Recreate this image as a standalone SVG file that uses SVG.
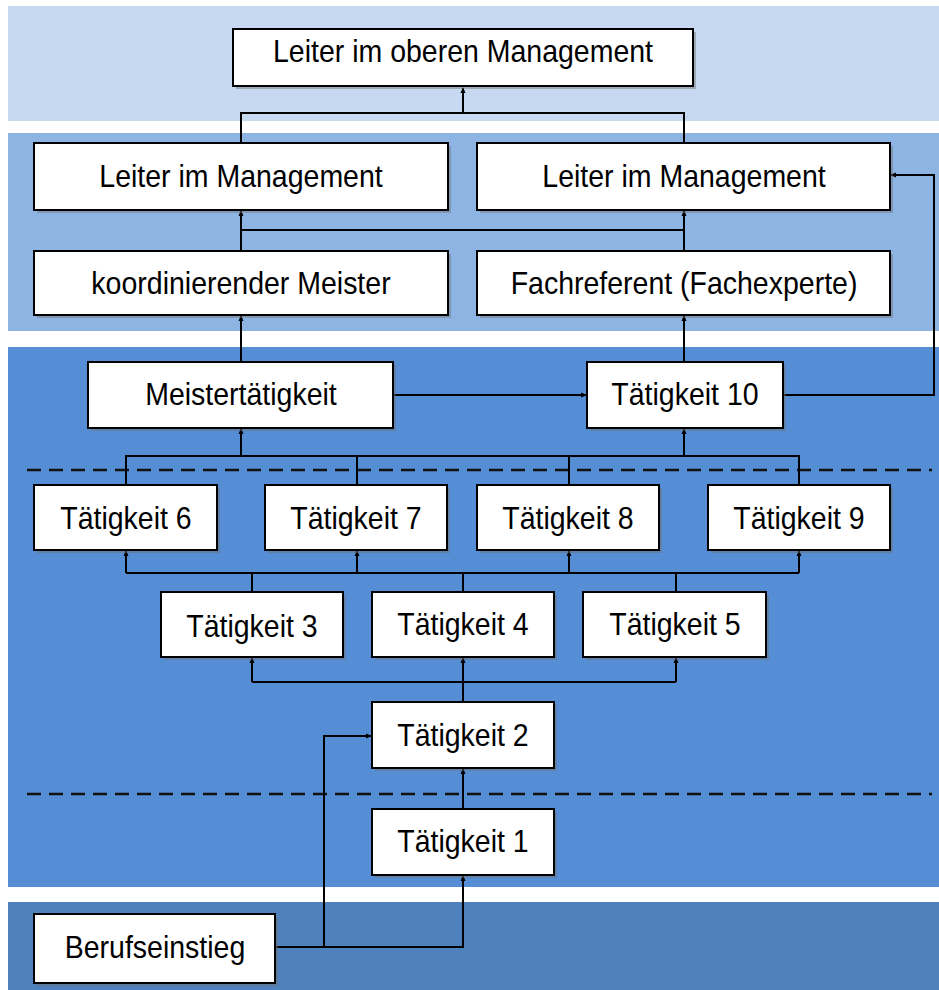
<svg xmlns="http://www.w3.org/2000/svg" width="939" height="990" viewBox="0 0 939 990">
<defs>
<style>
.box{fill:#fff;stroke:#000;stroke-width:2}
.sh{fill:#6f6f6f;opacity:0.45}
.t{font-family:"Liberation Sans",Arial,sans-serif;font-size:28.5px;fill:#000;text-anchor:middle}
.c{fill:none;stroke:#000;stroke-width:2}
.d{fill:none;stroke:#111;stroke-width:2.5;stroke-dasharray:14 8}
</style>
<marker id="a" markerWidth="6" markerHeight="6" refX="5" refY="3" orient="auto" markerUnits="userSpaceOnUse">
<path d="M0,0.5 L6,3 L0,5.5 Z" fill="#000"/>
</marker>
</defs>
<rect x="0" y="0" width="939" height="990" fill="#fff"/>
<g id="bands">
<rect x="8" y="6" width="931" height="115" fill="#c6d9f1"/>
<rect x="8" y="133" width="931" height="198" fill="#8eb4e3"/>
<rect x="8" y="347" width="931" height="540" fill="#558ed5"/>
<rect x="8" y="902" width="931" height="88" fill="#4f81bd"/>
</g>
<g id="dashes">
<line class="d" x1="27" y1="470" x2="932" y2="470"/>
<line class="d" x1="27" y1="794" x2="932" y2="794"/>
</g>
<g id="connectors">
<path class="c" d="M241,143 V113 H684 V143"/>
<path class="c" d="M463,113 V88" marker-end="url(#a)"/>
<path class="c" d="M241,230 H684"/>
<path class="c" d="M241,251 V211" marker-end="url(#a)"/>
<path class="c" d="M684,251 V211" marker-end="url(#a)"/>
<path class="c" d="M241,362 V316" marker-end="url(#a)"/>
<path class="c" d="M684,362 V316" marker-end="url(#a)"/>
<path class="c" d="M393,395 H586" marker-end="url(#a)"/>
<path class="c" d="M783,395 H934 V175 H891" marker-end="url(#a)"/>
<path class="c" d="M126,485 V456 H799 V485"/>
<path class="c" d="M357,485 V456"/>
<path class="c" d="M569,485 V456"/>
<path class="c" d="M241,456 V429" marker-end="url(#a)"/>
<path class="c" d="M684,456 V429" marker-end="url(#a)"/>
<path class="c" d="M126,573 H799"/>
<path class="c" d="M126,573 V551" marker-end="url(#a)"/>
<path class="c" d="M357,573 V551" marker-end="url(#a)"/>
<path class="c" d="M569,573 V551" marker-end="url(#a)"/>
<path class="c" d="M799,573 V551" marker-end="url(#a)"/>
<path class="c" d="M252,592 V573"/>
<path class="c" d="M463,592 V573"/>
<path class="c" d="M676,592 V573"/>
<path class="c" d="M252,682 H676"/>
<path class="c" d="M252,682 V658" marker-end="url(#a)"/>
<path class="c" d="M463,702 V658" marker-end="url(#a)"/>
<path class="c" d="M676,682 V658" marker-end="url(#a)"/>
<path class="c" d="M463,809 V769" marker-end="url(#a)"/>
<path class="c" d="M275,947 H463 V876" marker-end="url(#a)"/>
<path class="c" d="M324,947 V736 H371" marker-end="url(#a)"/>
</g>
<g id="n-top"><rect class="sh" x="236" y="32" width="460" height="57"/><rect class="box" x="233" y="29" width="460" height="57"/><text class="t" transform="translate(463,62) scale(1,1.07)">Leiter im oberen Management</text></g>
<g id="n-lim1"><rect class="sh" x="37" y="146" width="414" height="67"/><rect class="box" x="34" y="143" width="414" height="67"/><text class="t" transform="translate(241,187) scale(1,1.07)">Leiter im Management</text></g>
<g id="n-lim2"><rect class="sh" x="480" y="146" width="413" height="67"/><rect class="box" x="477" y="143" width="413" height="67"/><text class="t" transform="translate(684,187) scale(1,1.07)">Leiter im Management</text></g>
<g id="n-koord"><rect class="sh" x="37" y="254" width="414" height="64"/><rect class="box" x="34" y="251" width="414" height="64"/><text class="t" transform="translate(241,294) scale(1,1.07)">koordinierender Meister</text></g>
<g id="n-fach"><rect class="sh" x="480" y="254" width="413" height="64"/><rect class="box" x="477" y="251" width="413" height="64"/><text class="t" transform="translate(684,294) scale(1,1.07)">Fachreferent (Fachexperte)</text></g>
<g id="n-meister"><rect class="sh" x="91" y="365" width="305" height="66"/><rect class="box" x="88" y="362" width="305" height="66"/><text class="t" transform="translate(241,405) scale(1,1.07)">Meistertätigkeit</text></g>
<g id="n-t10"><rect class="sh" x="590" y="365" width="196" height="66"/><rect class="box" x="587" y="362" width="196" height="66"/><text class="t" transform="translate(685,405) scale(1,1.07)">Tätigkeit 10</text></g>
<g id="n-t6"><rect class="sh" x="37" y="488" width="183" height="65"/><rect class="box" x="34" y="485" width="183" height="65"/><text class="t" transform="translate(126,529) scale(1,1.07)">Tätigkeit 6</text></g>
<g id="n-t7"><rect class="sh" x="268" y="488" width="182" height="65"/><rect class="box" x="265" y="485" width="182" height="65"/><text class="t" transform="translate(356,529) scale(1,1.07)">Tätigkeit 7</text></g>
<g id="n-t8"><rect class="sh" x="480" y="488" width="182" height="65"/><rect class="box" x="477" y="485" width="182" height="65"/><text class="t" transform="translate(568,529) scale(1,1.07)">Tätigkeit 8</text></g>
<g id="n-t9"><rect class="sh" x="711" y="488" width="182" height="65"/><rect class="box" x="708" y="485" width="182" height="65"/><text class="t" transform="translate(799,529) scale(1,1.07)">Tätigkeit 9</text></g>
<g id="n-t3"><rect class="sh" x="164" y="595" width="182" height="65"/><rect class="box" x="161" y="592" width="182" height="65"/><text class="t" transform="translate(252,637) scale(1,1.07)">Tätigkeit 3</text></g>
<g id="n-t4"><rect class="sh" x="375" y="595" width="182" height="65"/><rect class="box" x="372" y="592" width="182" height="65"/><text class="t" transform="translate(463,635) scale(1,1.07)">Tätigkeit 4</text></g>
<g id="n-t5"><rect class="sh" x="586" y="595" width="183" height="65"/><rect class="box" x="583" y="592" width="183" height="65"/><text class="t" transform="translate(675,635) scale(1,1.07)">Tätigkeit 5</text></g>
<g id="n-t2"><rect class="sh" x="375" y="705" width="182" height="66"/><rect class="box" x="372" y="702" width="182" height="66"/><text class="t" transform="translate(463,746) scale(1,1.07)">Tätigkeit 2</text></g>
<g id="n-t1"><rect class="sh" x="375" y="812" width="182" height="66"/><rect class="box" x="372" y="809" width="182" height="66"/><text class="t" transform="translate(463,852) scale(1,1.07)">Tätigkeit 1</text></g>
<g id="n-beruf"><rect class="sh" x="37" y="917" width="241" height="69"/><rect class="box" x="34" y="914" width="241" height="69"/><text class="t" transform="translate(155,958) scale(1,1.07)">Berufseinstieg</text></g>
</svg>
